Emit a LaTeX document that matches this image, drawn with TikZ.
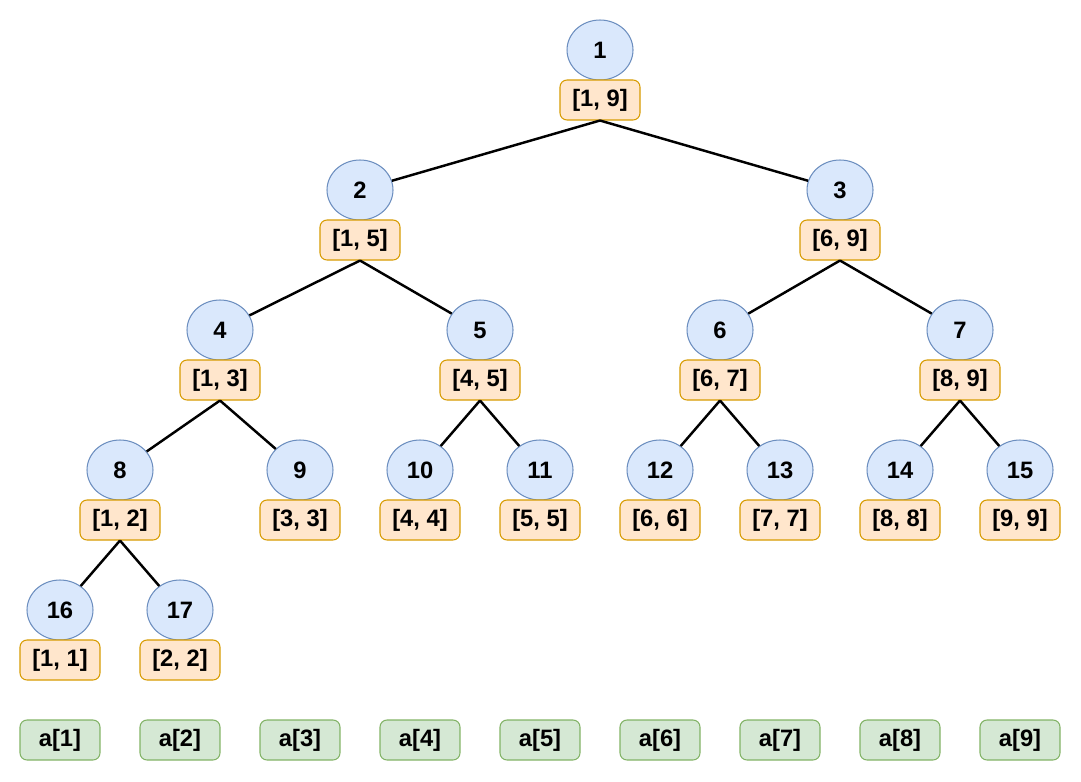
\documentclass[tikz,border=0pt]{standalone}
\usepackage{fontspec}
\setmainfont{Liberation Sans}
\usetikzlibrary{shapes.geometric}
\definecolor{nodefill}{HTML}{DAE8FC}
\definecolor{nodeline}{HTML}{6C8EBF}
\definecolor{rangefill}{HTML}{FFE6CC}
\definecolor{rangeline}{HTML}{D79B00}
\definecolor{cellfill}{HTML}{D5E8D4}
\definecolor{cellline}{HTML}{82B366}

\begin{document}
\begin{tikzpicture}[x=0.02cm, y=-0.02cm, every node/.style={font=\fontsize{13.5}{16}\selectfont\bfseries},
	segnode/.style={ellipse, draw=nodeline, fill=nodefill, line width=0.6pt, minimum width=1.32cm, minimum height=1.2cm, inner sep=0pt},
	rangebox/.style={draw=rangeline, fill=rangefill, line width=0.6pt, rounded corners=4pt, minimum width=1.6cm, minimum height=0.8cm, inner sep=0pt},
	cellbox/.style={draw=cellline, fill=cellfill, line width=0.6pt, rounded corners=4pt, minimum width=1.6cm, minimum height=0.8cm, inner sep=0pt},
	edge/.style={line width=1.4pt}]
	\useasboundingbox (0,0) rectangle (1081,781);
	% tree nodes with their ranges
	\foreach \i/\x/\y/\l/\r in {1/600/50/1/9, 2/360/190/1/5, 3/840/190/6/9, 4/220/330/1/3, 5/480/330/4/5, 6/720/330/6/7, 7/960/330/8/9, 8/120/470/1/2, 9/300/470/3/3, 10/420/470/4/4, 11/540/470/5/5, 12/660/470/6/6, 13/780/470/7/7, 14/900/470/8/8, 15/1020/470/9/9, 16/60/610/1/1, 17/180/610/2/2} {
		\node[segnode] (n\i) at (\x,\y) {\i};
		\node[rangebox] (r\i) at (\x,\y+50) {[\l, \r]};
	}
	% array cells
	\foreach \k in {1,...,9} {\node[cellbox] (a\k) at (120*\k-60,740) {a[\k]};}
	% edges parent -> child
	\foreach \c in {2,...,17} {
		\pgfmathtruncatemacro{\p}{\c/2}
		\draw[edge] (r\p.south) -- (n\c);
	}
\end{tikzpicture}
\end{document}
